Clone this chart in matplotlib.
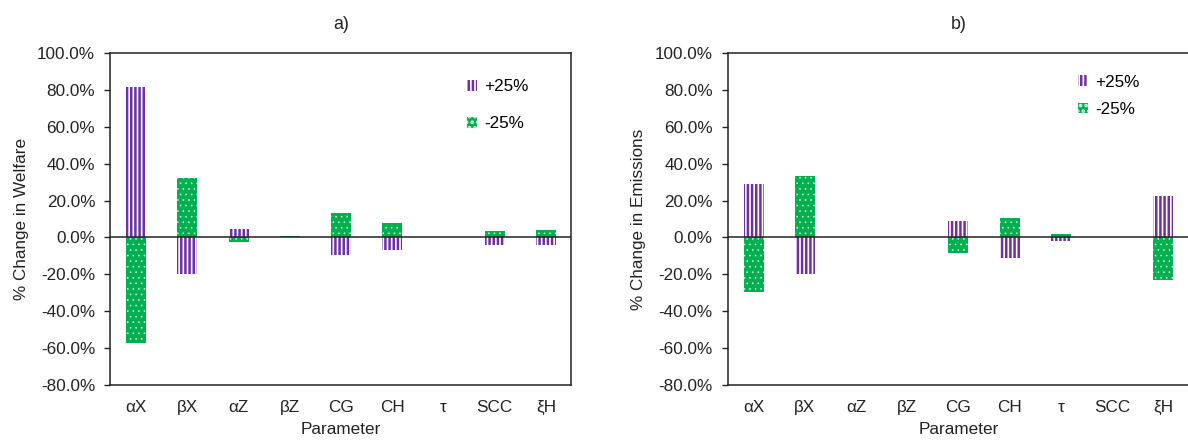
import matplotlib
matplotlib.use("Agg")
import matplotlib.pyplot as plt
from matplotlib.ticker import FuncFormatter, MultipleLocator
import numpy as np

plt.rcParams['font.family'] = ['Liberation Sans', 'DejaVu Sans']
plt.rcParams['hatch.linewidth'] = 1.8

params = ["αX", "βX", "αZ", "βZ", "CG", "CH", "τ", "SCC", "ξH"]

# % change in welfare
welfare_plus = [81.5, -19.7, 4.7, 0.0, -9.7, -6.7, 0.0, -4.3, -4.3]
welfare_minus = [-57.1, 32.4, -2.3, 0.7, 13.4, 7.6, 0.0, 3.6, 4.0]

# % change in emissions
emis_plus = [29.0, -20.0, 0.0, 0.0, 8.9, -10.9, -2.1, 0.0, 22.4]
emis_minus = [-29.4, 33.3, 0.0, 0.0, -8.6, 10.7, 2.1, 0.0, -23.3]

purple = "#7030A0"
green = "#00B050"
fs = 12.3

fig = plt.figure(figsize=(11.88, 4.41), dpi=100)
ax1 = fig.add_axes([0.0930, 0.127, 0.388, 0.753])
ax2 = fig.add_axes([0.6128, 0.127, 0.388, 0.753])

panels = [
    (ax1, welfare_plus, welfare_minus, "a)", "% Change in Welfare", (0.386, 0.840), 1.3),
    (ax2, emis_plus, emis_minus, "b)", "% Change in Emissions", (0.900, 0.850), 0.72),
]

x = np.arange(len(params))
for ax, plus, minus, title, ylabel, leg_pos, leg_sp in panels:
    ax.bar(x, plus, width=0.39, facecolor="white", edgecolor=purple,
           hatch="||||", linewidth=0, label="+25%", zorder=2)
    gb = ax.bar(x, minus, width=0.39, facecolor=green, edgecolor="#d8f5e3",
                hatch="...", linewidth=0, label="-25%", zorder=2)
    for p in gb:
        if hasattr(p, "set_hatch_linewidth"):
            p.set_hatch_linewidth(0.4)
    ax.axhline(0, color="#222222", linewidth=1.1, zorder=3)
    ax.set_xlim(-0.5, len(params) - 0.5)
    ax.set_ylim(-80, 100)
    ax.yaxis.set_major_locator(MultipleLocator(20))
    ax.yaxis.set_major_formatter(FuncFormatter(lambda v, p: f"{v:.1f}%"))
    ax.set_xticks(x)
    ax.set_xticklabels(params)
    ax.tick_params(axis="x", length=0, pad=11, labelsize=fs, colors="#222222")
    ax.tick_params(axis="y", length=4, width=1, pad=7, labelsize=fs, colors="#222222")
    for s in ax.spines.values():
        s.set_linewidth(1.1)
        s.set_color("#222222")
    ax.set_title(title, fontsize=fs + 0.5, pad=17, color="#222222")
    ax.set_xlabel("Parameter", fontsize=fs, labelpad=5, color="#222222")
    ax.set_ylabel(ylabel, fontsize=fs, labelpad=6, color="#222222")
    fig.legend(*ax.get_legend_handles_labels(), loc="upper left",
               bbox_to_anchor=leg_pos, frameon=False, fontsize=fs,
               handlelength=0.6, handleheight=0.6, handletextpad=0.4,
               labelspacing=leg_sp, borderpad=0)

fig.savefig("out.png", dpi=100)
